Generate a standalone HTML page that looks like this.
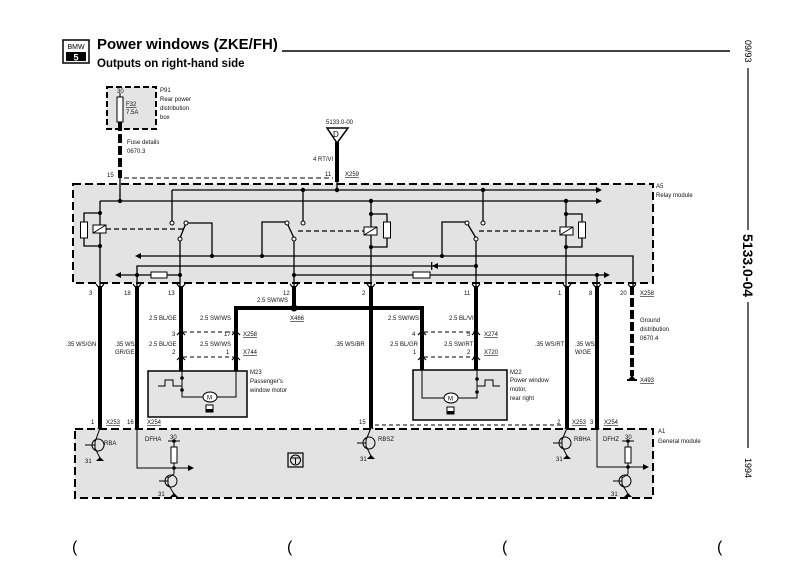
<!DOCTYPE html>
<html><head><meta charset="utf-8"><style>
html,body{margin:0;padding:0;background:#fff;}
svg{display:block;font-family:"Liberation Sans",sans-serif;}
.t{font-size:6px;fill:#111;}
.u{text-decoration:underline;}
</style></head><body>
<svg width="799" height="565" viewBox="0 0 799 565" xmlns="http://www.w3.org/2000/svg">
<!-- header -->
<rect x="63" y="40" width="26" height="23" fill="#fff" stroke="#000" stroke-width="1.5"/>
<text x="76" y="49" font-size="7" text-anchor="middle">BMW</text>
<rect x="66" y="52" width="20" height="9" fill="#000"/>
<text x="76" y="60.5" font-size="9" font-weight="bold" fill="#fff" text-anchor="middle">5</text>
<text x="97" y="49" font-size="15" font-weight="bold">Power windows (ZKE/FH)</text>
<line x1="282" y1="51" x2="730" y2="51" stroke="#000" stroke-width="1.5"/>
<text x="97" y="67" font-size="11.5" font-weight="bold">Outputs on right-hand side</text>
<!-- right margin -->
<text transform="translate(745,40) rotate(90)" font-size="9">09/93</text>
<line x1="748" y1="68" x2="748" y2="230" stroke="#000" stroke-width="1.2"/>
<text transform="translate(743,234) rotate(90)" font-size="14" font-weight="bold">5133.0-04</text>
<line x1="748" y1="302" x2="748" y2="448" stroke="#000" stroke-width="1.2"/>
<text transform="translate(745,458) rotate(90)" font-size="9">1994</text>
<g font-size="16" fill="#000"><text x="72" y="552">(</text><text x="287" y="552">(</text><text x="502" y="552">(</text><text x="717" y="552">(</text></g>

<!-- P91 -->
<rect x="107" y="87" width="49" height="42" fill="#e4e4e4" stroke="#000" stroke-width="2" stroke-dasharray="6,3"/>
<rect x="117" y="97" width="6" height="25" fill="#fff" stroke="#000" stroke-width="1"/>
<line x1="120" y1="93" x2="120" y2="97" stroke="#000"/>
<text class="t" x="117" y="93">30</text>
<text class="t u" x="126" y="106">F32</text><text class="t" x="126" y="114">7.5A</text>
<text class="t" x="160" y="92">P91</text><text class="t" x="160" y="101">Rear power</text><text class="t" x="160" y="110">distribution</text><text class="t" x="160" y="119">box</text>
<line x1="120" y1="122" x2="120" y2="178" stroke="#000" stroke-width="4" stroke-dasharray="9,3"/>
<text class="t" x="127" y="144">Fuse details</text><text class="t" x="127" y="153">0670.3</text>
<text class="t" x="107" y="177">15</text>
<line x1="124" y1="178" x2="333" y2="178" stroke="#000" stroke-width="1" stroke-dasharray="5,3"/>
<!-- D -->
<polygon points="327,128 348,128 337,143" fill="#fff" stroke="#000" stroke-width="1.5"/>
<text x="333" y="137" font-size="8">D</text>
<text class="t" x="326" y="124">5133.0-00</text>
<line x1="337" y1="142" x2="337" y2="182" stroke="#000" stroke-width="4"/>
<text class="t" x="313" y="161">4 RT/VI</text>
<text class="t" x="325" y="176">11</text><text class="t u" x="345" y="176">X259</text>

<!-- Relay module A5 -->
<rect x="73" y="184" width="580" height="99" fill="#e3e3e3" stroke="#000" stroke-width="2" stroke-dasharray="8,4"/>
<text class="t" x="656" y="188">A5</text><text class="t" x="656" y="197">Relay module</text>
<g stroke="#000" stroke-width="1.3" fill="none">
<line x1="120" y1="178" x2="120" y2="201"/>
<line x1="337" y1="182" x2="337" y2="190"/>
<line x1="172" y1="190" x2="596" y2="190"/>
<line x1="100" y1="201" x2="596" y2="201"/>
<line x1="172" y1="190" x2="172" y2="221"/>
<line x1="303" y1="190" x2="303" y2="221"/>
<line x1="483" y1="190" x2="483" y2="221"/>
<line x1="100" y1="201" x2="100" y2="286"/>
<polyline points="100,213 84,213 84,246 100,246"/>
<line x1="371" y1="201" x2="371" y2="286"/>
<polyline points="371,214 387,214 387,247 371,247"/>
<line x1="566" y1="201" x2="566" y2="286"/>
<polyline points="566,214 582,214 582,247 566,247"/>
<line x1="180" y1="238" x2="186" y2="223"/>
<polyline points="186,223 212,223 212,256"/>
<line x1="180" y1="240" x2="180" y2="286"/>
<polyline points="262,256 262,222 287,222"/>
<line x1="287" y1="223" x2="294" y2="238"/>
<line x1="294" y1="240" x2="294" y2="286"/>
<polyline points="442,256 442,222 467,222"/>
<line x1="467" y1="223" x2="476" y2="238"/>
<line x1="476" y1="240" x2="476" y2="286"/>
<polyline points="141,256 633,256 633,286"/>
<polyline points="137,286 137,266 476,266"/>
<line x1="121" y1="275" x2="180" y2="275"/>
<line x1="294" y1="275" x2="604" y2="275"/>
<line x1="597" y1="275" x2="597" y2="286"/>
</g>
<g stroke="#000" stroke-width="1.2" stroke-dasharray="5,3"><line x1="106" y1="229" x2="184" y2="229"/><line x1="298" y1="231" x2="364" y2="231"/><line x1="479" y1="231" x2="561" y2="231"/></g>
<g fill="#fff" stroke="#000" stroke-width="1">
<rect x="80.5" y="222" width="7" height="16"/><rect x="93" y="225" width="13" height="8"/>
<rect x="383.5" y="222" width="7" height="16"/><rect x="364" y="227" width="13" height="8"/>
<rect x="578.5" y="222" width="7" height="16"/><rect x="560" y="227" width="13" height="8"/>
<rect x="151" y="272" width="16" height="6"/><rect x="413" y="272" width="17" height="6"/>
<circle cx="172" cy="223" r="2"/><circle cx="186" cy="223" r="2"/><circle cx="180" cy="239" r="2"/>
<circle cx="287" cy="223" r="2"/><circle cx="303" cy="223" r="2"/><circle cx="294" cy="239" r="2"/>
<circle cx="467" cy="223" r="2"/><circle cx="483" cy="223" r="2"/><circle cx="476" cy="239" r="2"/>
</g>
<g stroke="#000" stroke-width="1"><line x1="93" y1="233" x2="106" y2="225"/><line x1="364" y1="235" x2="377" y2="227"/><line x1="560" y1="235" x2="573" y2="227"/></g>
<g fill="#000">
<polygon points="596,187 602,190 596,193"/><polygon points="596,198 602,201 596,204"/>
<polygon points="141,253 135,256 141,259"/><polygon points="121,272 115,275 121,278"/><polygon points="604,272 610,275 604,278"/>
<polygon points="432,263 438,266 432,269" transform="rotate(180 435 266)"/><rect x="431" y="262" width="1.3" height="8"/>
<circle cx="120" cy="201" r="2.2"/><circle cx="337" cy="190" r="2.2"/><circle cx="303" cy="190" r="2.2"/><circle cx="483" cy="190" r="2.2"/>
<circle cx="371" cy="201" r="2.2"/><circle cx="566" cy="201" r="2.2"/>
<circle cx="100" cy="213" r="2"/><circle cx="100" cy="246" r="2"/><circle cx="371" cy="214" r="2"/><circle cx="371" cy="247" r="2"/><circle cx="566" cy="214" r="2"/><circle cx="566" cy="247" r="2"/>
<circle cx="212" cy="256" r="2"/><circle cx="262" cy="256" r="2"/><circle cx="442" cy="256" r="2"/>
<circle cx="476" cy="266" r="2"/><circle cx="137" cy="275" r="2"/><circle cx="180" cy="275" r="2"/><circle cx="294" cy="275" r="2"/><circle cx="597" cy="275" r="2"/>
</g>
<g class="t"><text x="89" y="295">3</text><text x="124" y="295">18</text><text x="168" y="295">13</text><text x="283" y="295">12</text><text x="362" y="295">2</text><text x="464" y="295">11</text><text x="558" y="295">1</text><text x="589" y="295">8</text><text x="620" y="295">20</text></g>
<text class="t u" x="640" y="295">X258</text>

<!-- thick wires -->
<g stroke="#000" stroke-width="4" fill="none">
<line x1="100" y1="286" x2="100" y2="428"/>
<line x1="137" y1="286" x2="137" y2="428"/>
<line x1="181" y1="286" x2="181" y2="371"/>
<line x1="294" y1="286" x2="294" y2="308"/>
<polyline points="236,371 236,308 422,308 422,370"/>
<line x1="371" y1="286" x2="371" y2="428"/>
<line x1="476" y1="286" x2="476" y2="370"/>
<line x1="567" y1="286" x2="567" y2="428"/>
<line x1="597" y1="286" x2="597" y2="428"/>
<line x1="632" y1="286" x2="632" y2="376" stroke-dasharray="9,3"/>
</g>
<circle cx="294" cy="308" r="3.5" fill="#000"/>
<g stroke="#000" stroke-width="1.2" fill="none">
<path d="M96,284 L100,289 L104,284 M133,284 L137,289 L141,284 M177,284 L181,289 L185,284 M290,284 L294,289 L298,284 M367,284 L371,289 L375,284 M472,284 L476,289 L480,284 M563,284 L567,289 L571,284 M593,284 L597,289 L601,284 M628,284 L632,289 L636,284"/>
<path d="M96,432 L100,426 L104,432 M133,432 L137,426 L141,432 M367,432 L371,426 L375,432 M563,432 L567,426 L571,432 M593,432 L597,426 L601,432"/>
<path d="M177,335 L181,331 L185,335 M232,335 L236,331 L240,335 M177,360 L181,356 L185,360 M232,360 L236,356 L240,360"/>
<path d="M418,335 L422,331 L426,335 M472,335 L476,331 L480,335 M418,360 L422,356 L426,360 M472,360 L476,356 L480,360"/>
</g>
<g stroke="#000" stroke-width="1" stroke-dasharray="4,3"><line x1="183" y1="332" x2="234" y2="332"/><line x1="183" y1="357" x2="234" y2="357"/><line x1="424" y1="332" x2="474" y2="332"/><line x1="424" y1="357" x2="474" y2="357"/></g>
<polygon points="628,380 636,380 632,375" fill="#000"/><rect x="627" y="379" width="10" height="2" fill="#000"/>
<g class="t">
<text x="257" y="302">2.5 SW/WS</text>
<text class="u" x="290" y="320">X466</text>
<text x="149" y="320">2.5 BL/GE</text><text x="200" y="320">2.5 SW/WS</text>
<text x="172" y="336">3</text><text x="224" y="336">17</text><text class="u" x="243" y="336">X258</text>
<text x="149" y="346">2.5 BL/GE</text><text x="200" y="346">2.5 SW/WS</text>
<text x="172" y="354">2</text><text x="226" y="354">1</text><text class="u" x="243" y="354">X744</text>
<text x="388" y="320">2.5 SW/WS</text><text x="449" y="320">2.5 BL/VI</text>
<text x="412" y="336">4</text><text x="467" y="336">5</text><text class="u" x="484" y="336">X274</text>
<text x="390" y="346">2.5 BL/GR</text><text x="444" y="346">2.5 SW/RT</text>
<text x="413" y="354">1</text><text x="467" y="354">2</text><text class="u" x="484" y="354">X720</text>
<text x="66" y="346">.35 WS/GN</text>
<text x="115" y="346">.35 WS/</text><text x="115" y="354">GR/GE</text>
<text x="335" y="346">.35 WS/BR</text>
<text x="535" y="346">.35 WS/RT</text>
<text x="575" y="346">.35 WS/</text><text x="575" y="354">W/GE</text>
<text x="640" y="322">Ground</text><text x="640" y="331">distribution</text><text x="640" y="340">0670.4</text>
<text class="u" x="640" y="382">X493</text>
</g>
<!-- M23 -->
<rect x="148" y="371" width="99" height="46" fill="#e4e4e4" stroke="#000" stroke-width="1.5"/>
<g stroke="#000" stroke-width="1" fill="none">
<polyline points="182,371 182,397 204,397"/><polyline points="216,397 236,397 236,371"/>
<polyline points="158,386 165,386 165,380 173,380 173,386 182,386"/>
</g>
<ellipse cx="210" cy="397" rx="7" ry="5" fill="#fff" stroke="#000"/><text x="207" y="399.5" font-size="6">M</text>
<rect x="206" y="405" width="7" height="7" fill="#fff" stroke="#000"/><rect x="206" y="409" width="7" height="3" fill="#000"/>
<circle cx="182" cy="378" r="1.8"/><circle cx="182" cy="390" r="1.8"/>
<g class="t"><text x="250" y="374">M23</text><text x="250" y="383">Passenger's</text><text x="250" y="392">window motor</text></g>
<!-- M22 -->
<rect x="413" y="370" width="94" height="50" fill="#e4e4e4" stroke="#000" stroke-width="1.5"/>
<g stroke="#000" stroke-width="1" fill="none">
<polyline points="422,370 422,398 445,398"/><polyline points="457,398 477,398 477,370"/>
<polyline points="477,386 485,386 485,380 493,380 493,386 500,386"/>
</g>
<ellipse cx="451" cy="398" rx="7" ry="5" fill="#fff" stroke="#000"/><text x="448" y="400.5" font-size="6">M</text>
<rect x="447" y="407" width="7" height="7" fill="#fff" stroke="#000"/><rect x="447" y="411" width="7" height="3" fill="#000"/>
<circle cx="477" cy="379" r="1.8"/><circle cx="477" cy="392" r="1.8"/>
<g class="t"><text x="510" y="374">M22</text><text x="510" y="382">Power window</text><text x="510" y="391">motor,</text><text x="510" y="400">rear right</text></g>

<!-- General module A1 -->
<rect x="75" y="429" width="578" height="69" fill="#e3e3e3" stroke="#000" stroke-width="2" stroke-dasharray="8,4"/>
<line x1="375" y1="425" x2="563" y2="425" stroke="#000" stroke-dasharray="4,3"/>
<g class="t">
<text x="91" y="424">1</text><text class="u" x="106" y="424">X253</text><text x="127" y="424">16</text><text class="u" x="147" y="424">X254</text>
<text x="359" y="424">15</text><text x="557" y="424">2</text><text class="u" x="572" y="424">X253</text><text x="590" y="424">3</text><text class="u" x="604" y="424">X254</text>
<text x="658" y="433">A1</text><text x="658" y="443">General module</text>
<text x="104" y="445">RBA</text><text x="145" y="441">DFHA</text><text x="170" y="439">30</text>
<text x="378" y="441">RBSZ</text><text x="574" y="441">RBHA</text><text x="603" y="441">DFHZ</text><text x="625" y="439">30</text>
<text x="85" y="463">31</text><text x="158" y="496">31</text><text x="360" y="461">31</text><text x="556" y="461">31</text><text x="611" y="496">31</text>
</g>
<g stroke="#000" stroke-width="1" fill="none">
<circle cx="98" cy="445" r="6"/><line x1="85" y1="445" x2="95" y2="445"/><line x1="95" y1="440" x2="95" y2="450"/><line x1="95" y1="442" x2="100" y2="428"/><line x1="95" y1="448" x2="100" y2="458"/>
<circle cx="369" cy="443" r="6"/><line x1="357" y1="443" x2="366" y2="443"/><line x1="366" y1="438" x2="366" y2="448"/><line x1="366" y1="440" x2="371" y2="428"/><line x1="366" y1="446" x2="371" y2="456"/>
<circle cx="565" cy="443" r="6"/><line x1="553" y1="443" x2="562" y2="443"/><line x1="562" y1="438" x2="562" y2="448"/><line x1="562" y1="440" x2="567" y2="428"/><line x1="562" y1="446" x2="567" y2="456"/>
<polyline points="137,428 137,468 188,468"/><line x1="174" y1="441" x2="174" y2="474"/><line x1="168" y1="441" x2="180" y2="441"/>
<circle cx="171" cy="481" r="6"/><line x1="159" y1="481" x2="168" y2="481"/><line x1="168" y1="476" x2="168" y2="486"/><line x1="168" y1="478" x2="174" y2="474"/><line x1="168" y1="484" x2="174" y2="494"/>
<polyline points="597,428 597,467 643,467"/><line x1="628" y1="441" x2="628" y2="474"/><line x1="622" y1="441" x2="634" y2="441"/>
<circle cx="625" cy="481" r="6"/><line x1="613" y1="481" x2="622" y2="481"/><line x1="622" y1="476" x2="622" y2="486"/><line x1="622" y1="478" x2="628" y2="474"/><line x1="622" y1="484" x2="628" y2="494"/>
<rect x="288" y="453" width="15" height="14" stroke-width="1.2"/><circle cx="295.5" cy="460" r="5"/><path d="M291,458 L300,458 M295.5,458 L295.5,464"/>
</g>
<g fill="#fff" stroke="#000" stroke-width="1"><rect x="171" y="447" width="6" height="16"/><rect x="625" y="447" width="6" height="16"/></g>
<g fill="#000">
<polygon points="188,465 194,468 188,471"/><polygon points="643,464 649,467 643,470"/>
<circle cx="174" cy="441" r="1.8"/><circle cx="174" cy="468" r="1.8"/><circle cx="628" cy="441" r="1.8"/><circle cx="628" cy="467" r="1.8"/>
<polygon points="96,461 104,461 100,457"/><polygon points="170,497 178,497 174,493"/><polygon points="367,459 375,459 371,455"/><polygon points="563,459 571,459 567,455"/><polygon points="624,497 632,497 628,493"/>
</g>
</svg>
</body></html>
